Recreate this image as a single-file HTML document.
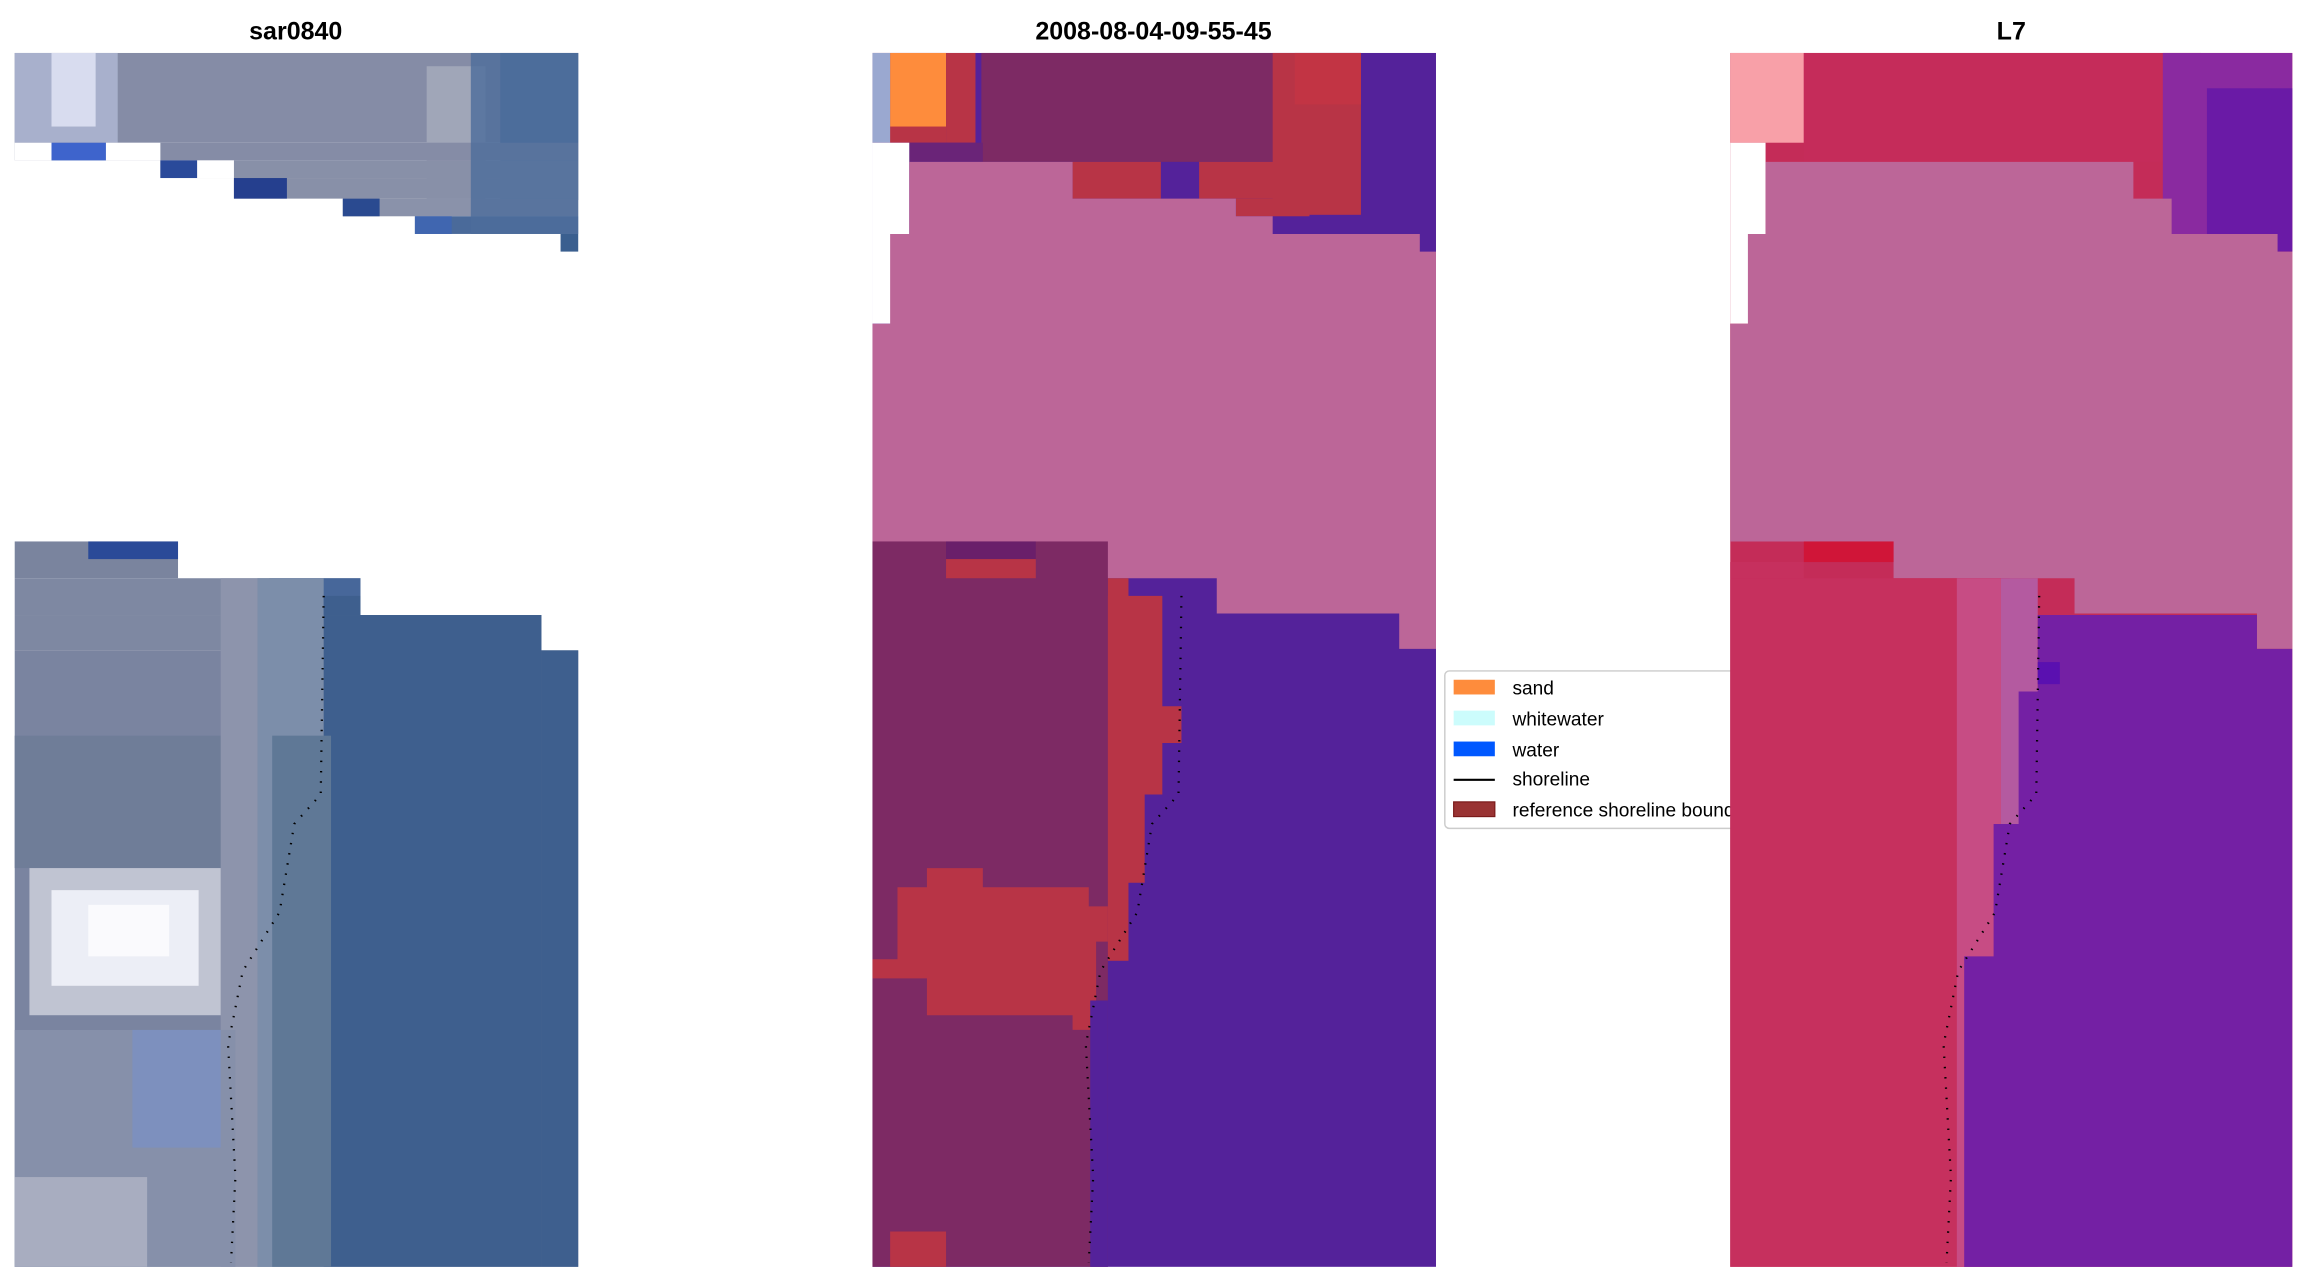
<!DOCTYPE html>
<html><head><meta charset="utf-8"><style>html,body{margin:0;padding:0;background:#fff}svg{display:block}</style></head>
<body>
<svg width="2307" height="1283" viewBox="0 0 1568 872" preserveAspectRatio="none" xmlns="http://www.w3.org/2000/svg" font-family="Liberation Sans, DejaVu Sans, sans-serif">
<rect width="1568" height="872" fill="#fff"/>
<!-- Panel 1 -->
<g>
<rect x="10" y="36" width="383" height="61" fill="#858ca6"/>
<rect x="10" y="36" width="70" height="61" fill="#a8b0cc"/>
<rect x="35" y="36" width="30" height="50" fill="#d8dcef"/>
<rect x="290" y="45" width="40" height="100" fill="#a0a6b8"/>
<rect x="340" y="36" width="53" height="100" fill="#4d6f9c"/>
<rect x="10" y="97" width="383" height="12" fill="#858ca6"/>
<rect x="35" y="97" width="37" height="12" fill="#3e64cc"/>
<rect x="10" y="97" width="25" height="12" fill="#fff"/>
<rect x="72" y="97" width="37" height="12" fill="#fff"/>
<rect x="109" y="109" width="284" height="12" fill="#8890a8"/>
<rect x="109" y="109" width="25" height="12" fill="#2a4a9a"/>
<rect x="134" y="109" width="25" height="12" fill="#fff"/>
<rect x="159" y="121" width="234" height="14" fill="#8890a8"/>
<rect x="159" y="121" width="36" height="14" fill="#253f8e"/>
<rect x="233" y="135" width="160" height="12" fill="#8a92aa"/>
<rect x="233" y="135" width="25" height="12" fill="#2a4a90"/>
<rect x="282" y="147" width="111" height="12" fill="#4a6a9a"/>
<rect x="282" y="147" width="25" height="12" fill="#4066b0"/>
<rect x="320" y="36" width="73" height="123" fill="#4c6d9b" opacity="0.8"/>
<rect x="381" y="159" width="12" height="12" fill="#3a5f8f"/>
<rect x="10" y="368" width="111" height="25" fill="#7a849e"/>
<rect x="60" y="368" width="61" height="12" fill="#2a4a98"/>
<rect x="10" y="393" width="235" height="25" fill="#7e88a2"/>
<rect x="183" y="393" width="62" height="25" fill="#47679a"/>
<rect x="10" y="418" width="358" height="24" fill="#7e88a2"/>
<rect x="10" y="442" width="383" height="419" fill="#7a84a0"/>
<rect x="10" y="500" width="150" height="90" fill="#6f7d98"/>
<rect x="150" y="393" width="35" height="468" fill="#8d94ac"/>
<rect x="175" y="393" width="45" height="468" fill="#7c8eaa"/>
<rect x="220" y="418" width="148" height="443" fill="#3e5f8e"/>
<rect x="220" y="405" width="25" height="13" fill="#3e5f8e"/>
<rect x="368" y="442" width="25" height="419" fill="#3e5f8e"/>
<rect x="185" y="500" width="40" height="361" fill="#5f7896"/>
<rect x="20" y="590" width="130" height="100" fill="#c0c4d2"/>
<rect x="35" y="605" width="100" height="65" fill="#eceef6"/>
<rect x="60" y="615" width="55" height="35" fill="#fafafd"/>
<rect x="10" y="700" width="150" height="161" fill="#8690aa"/>
<rect x="90" y="700" width="60" height="80" fill="#7d90be"/>
<rect x="10" y="800" width="90" height="61" fill="#a8adc0"/>
</g>
<!-- Panel 2 -->
<g>
<rect x="593" y="36" width="383" height="825" fill="#54229a"/>
<rect x="593" y="36" width="50" height="61" fill="#b83446"/>
<rect x="605" y="36" width="38" height="50" fill="#fe8c3c"/>
<rect x="593" y="36" width="12" height="61" fill="#9aa8d0"/>
<rect x="643" y="36" width="20" height="61" fill="#b83446"/>
<rect x="667" y="36" width="258" height="74" fill="#7d2a64"/>
<rect x="865" y="36" width="60" height="110" fill="#b83446"/>
<rect x="880" y="36" width="45" height="35" fill="#c23444"/>
<rect x="618" y="97" width="50" height="13" fill="#6a2478"/>
<rect x="593" y="97" width="25" height="123" fill="#fff"/>
<rect x="729" y="110" width="60" height="25" fill="#b83446"/>
<rect x="815" y="110" width="75" height="25" fill="#b83446"/>
<rect x="840" y="135" width="50" height="12" fill="#b83446"/>
<polygon fill="#bc6698" points="618,110 729,110 729,135 790,135 790,135 815,135 815,135 840,135 840,147 865,147 865,159 965,159 965,171 976,171 976,441 951,441 951,417 827,417 827,393 704,393 704,368 593,368 593,220 605,220 605,159 618,159"/>
<rect x="593" y="368" width="160" height="493" fill="#7d2a64"/>
<rect x="643" y="368" width="61" height="12" fill="#6a1f6a"/>
<rect x="643" y="380" width="61" height="13" fill="#b83446"/>
<rect x="753" y="393" width="14" height="260" fill="#b83446"/>
<polygon fill="#b83446" points="767,405 790,405 790,480 803,480 803,505 790,505 790,540 778,540 778,600 766,600 766,650 753,650 753,405"/>
<polygon fill="#b83446" points="630,590 668,590 668,603 740,603 740,616 753,616 753,640 745,640 745,700 729,700 729,690 630,690 630,665 593,665 593,652 610,652 610,603 630,603"/>
<rect x="605" y="837" width="38" height="24" fill="#b83446"/>
<rect x="741" y="680" width="12" height="181" fill="#54229a"/>
</g>
<!-- legend (drawn before panel 3 so it's clipped) -->
<g>
<rect x="982" y="456" width="200" height="107" rx="3" fill="#fff" stroke="#ccc" stroke-width="1"/>
<rect x="988" y="462" width="28" height="10" fill="#fe8c3c"/>
<rect x="988" y="483" width="28" height="10" fill="#ccfcfc"/>
<rect x="988" y="504" width="28" height="10" fill="#0058ff"/>
<line x1="988" y1="530" x2="1016" y2="530" stroke="#000" stroke-width="1.5"/>
<rect x="988" y="545" width="28" height="10" fill="#993333" stroke="#7a1a1a" stroke-width="0.8"/>
<g font-size="13" fill="#000">
<text x="1028" y="472">sand</text>
<text x="1028" y="493">whitewater</text>
<text x="1028" y="514">water</text>
<text x="1028" y="534">shoreline</text>
<text x="1028" y="555">reference shoreline boundary</text>
</g>
</g>
<!-- Panel 3 -->
<g>
<rect x="1176" y="36" width="382" height="825" fill="#c42c58"/>
<rect x="1176" y="36" width="50" height="61" fill="#f8a0a8"/>
<rect x="1226" y="36" width="270" height="74" fill="#c52c5a"/>
<rect x="1470" y="36" width="88" height="135" fill="#8a2aa0"/>
<rect x="1500" y="60" width="58" height="111" fill="#6a1aa6"/>
<rect x="1325" y="121" width="36" height="12" fill="#d0103a"/>
<rect x="1176" y="97" width="24" height="123" fill="#fff"/>
<polygon fill="#bc6698" points="1200,110 1450,110 1450,135 1476,135 1476,159 1548,159 1548,171 1558,171 1558,441 1534,441 1534,417 1410,417 1410,393 1287,393 1287,368 1176,368 1176,220 1188,220 1188,159 1200,159"/>
<rect x="1226" y="368" width="61" height="14" fill="#d01538"/>
<rect x="1176" y="382" width="50" height="11" fill="#c6305e"/>
<rect x="1176" y="393" width="190" height="468" fill="#c6305e"/>
<rect x="1330" y="393" width="30" height="468" fill="#c74c84"/>
<rect x="1360" y="393" width="25" height="468" fill="#b45aa0"/>
<polygon fill="#7420a4" points="1385,418 1534,418 1534,441 1558,441 1558,861 1335,861 1335,650 1355,650 1355,560 1372,560 1372,470 1385,470"/>
<rect x="1385" y="450" width="15" height="15" fill="#5a10b0"/>
</g>
<!-- shorelines -->
<g fill="none" stroke="#000" stroke-width="1.5" stroke-dasharray="1 6">
<polyline points="220,405 218,540 200,560 190,620 165,660 155,710 160,800 157,858"/>
<polyline points="803,405 801,540 783,560 773,620 748,660 738,710 743,800 740,858"/>
<polyline points="1386,405 1384,540 1366,560 1356,620 1331,660 1321,710 1326,800 1323,858"/>
</g>
<!-- titles -->
<g font-size="17" font-weight="bold" text-anchor="middle" fill="#000">
<text x="201" y="27">sar0840</text>
<text x="784" y="27">2008-08-04-09-55-45</text>
<text x="1367" y="27">L7</text>
</g>
</svg>
</body></html>
